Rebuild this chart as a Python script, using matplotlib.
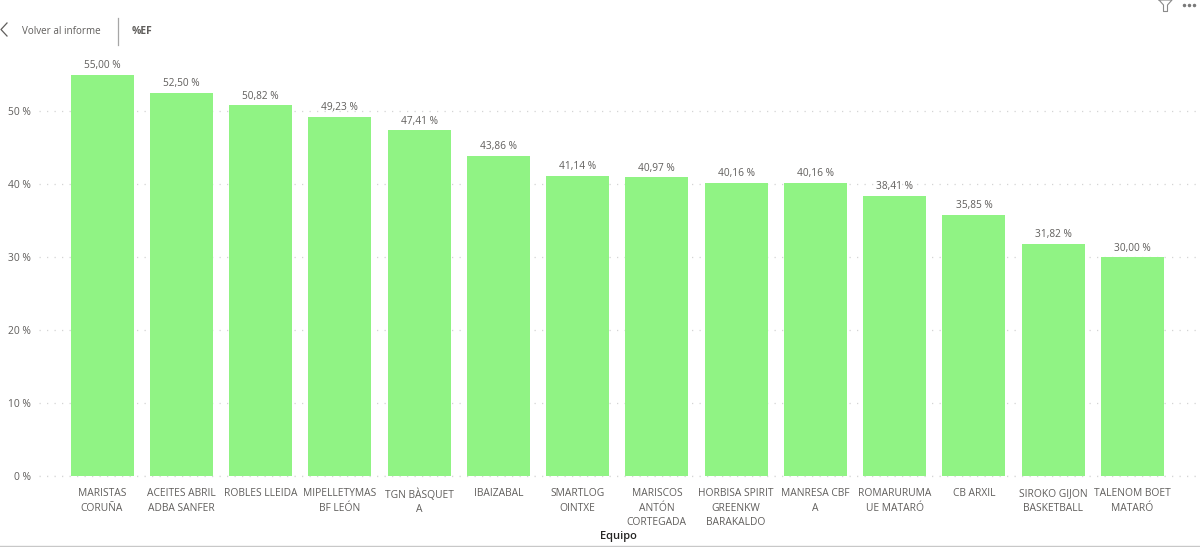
import matplotlib
matplotlib.use("Agg")
import matplotlib.pyplot as plt
from matplotlib.lines import Line2D

teams = ["MARISTAS\nCORUÑA", "ACEITES ABRIL\nADBA SANFER", "ROBLES LLEIDA", "MIPELLETYMAS\nBF LEÓN",
         "TGN BÀSQUET\nA", "IBAIZABAL", "SMARTLOG\nOINTXE", "MARISCOS\nANTÓN\nCORTEGADA",
         "HORBISA SPIRIT\nGREENKW\nBARAKALDO", "MANRESA CBF\nA", "ROMARURUMA\nUE MATARÓ", "CB ARXIL",
         "SIROKO GIJON\nBASKETBALL", "TALENOM BOET\nMATARÓ"]
ef = [55.00, 52.50, 50.82, 49.23, 47.41, 43.86, 41.14, 40.97, 40.16, 40.16, 38.41, 35.85, 31.82, 30.00]
yticks = [0, 10, 20, 30, 40, 50]

W, H = 1200, 547
plt.rcParams['font.family'] = ['Open Sans', 'DejaVu Sans']
fig = plt.figure(figsize=(W / 100, H / 100), dpi=100, facecolor='white')
GRAY = '#605E5C'

def px_axes(l, t, r, b):
    return [l / W, 1 - b / H, (r - l) / W, (b - t) / H]

ax = fig.add_axes(px_axes(39, 60, 1197, 476))
x = list(range(len(teams)))
ax.set_axisbelow(True)
ax.bar(x, ef, width=0.795, color='#90F384', edgecolor='none', zorder=2)
ax.set_xlim(-0.795, 13.815)
ax.set_ylim(0, 57.06)
ax.set_yticks(yticks, [f"{v} %" for v in yticks])
ax.set_xticks(x, teams)
ax.tick_params(axis='both', length=0, labelsize=7.4, labelcolor=GRAY)
ax.tick_params(axis='x', pad=9)
ax.tick_params(axis='y', pad=6)
for lab in ax.get_xticklabels():
    lab.set_linespacing(1.39)
ax.grid(axis='y', color='#D4D4D4', linewidth=0.9, linestyle=(0, (1, 5)), zorder=0)
ax.axhline(0, color='#D4D4D4', linewidth=0.9, linestyle=(0, (1, 5)), zorder=3, clip_on=False)
for s in ax.spines.values():
    s.set_visible(False)
for xi, v in zip(x, ef):
    ax.annotate(f"{v:.2f} %".replace('.', ','), (xi, v), xytext=(0, 2.7), textcoords='offset points',
                ha='center', va='bottom', fontsize=7.3, color=GRAY)

def T(px, py, s, **kw):
    fig.text(px / W, 1 - py / H, s, va='center', **kw)

def L(xs, ys, **kw):
    fig.add_artist(Line2D([p / W for p in xs], [1 - p / H for p in ys], **kw))

T(618, 536.5, "Equipo", ha='center', fontsize=8, color='#252423', fontweight='semibold')
T(22, 31.5, "Volver al informe", ha='left', fontsize=7.1, color=GRAY)
T(132, 31, "%EF", ha='left', fontsize=7.4, color=GRAY, fontweight='bold')
L([7, 1, 7], [23, 29.5, 36], color=GRAY, linewidth=0.9)
L([118, 118], [18, 45], color='#A6A6A6', linewidth=0.9)
L([1159, 1172, 1167.5, 1167.5, 1163.5, 1163.5, 1159], [0, 0, 5, 11.5, 11.5, 5, 0], color='#8A8A8A', linewidth=0.8)
L([1184, 1189, 1194], [5, 5, 5], color='#7A7A7A', linestyle='none', marker='o', markersize=1.5)
L([0, 1200], [546, 546], color='#C8C8C8', linewidth=1)

fig.savefig('out.png', dpi=100, facecolor='white')
